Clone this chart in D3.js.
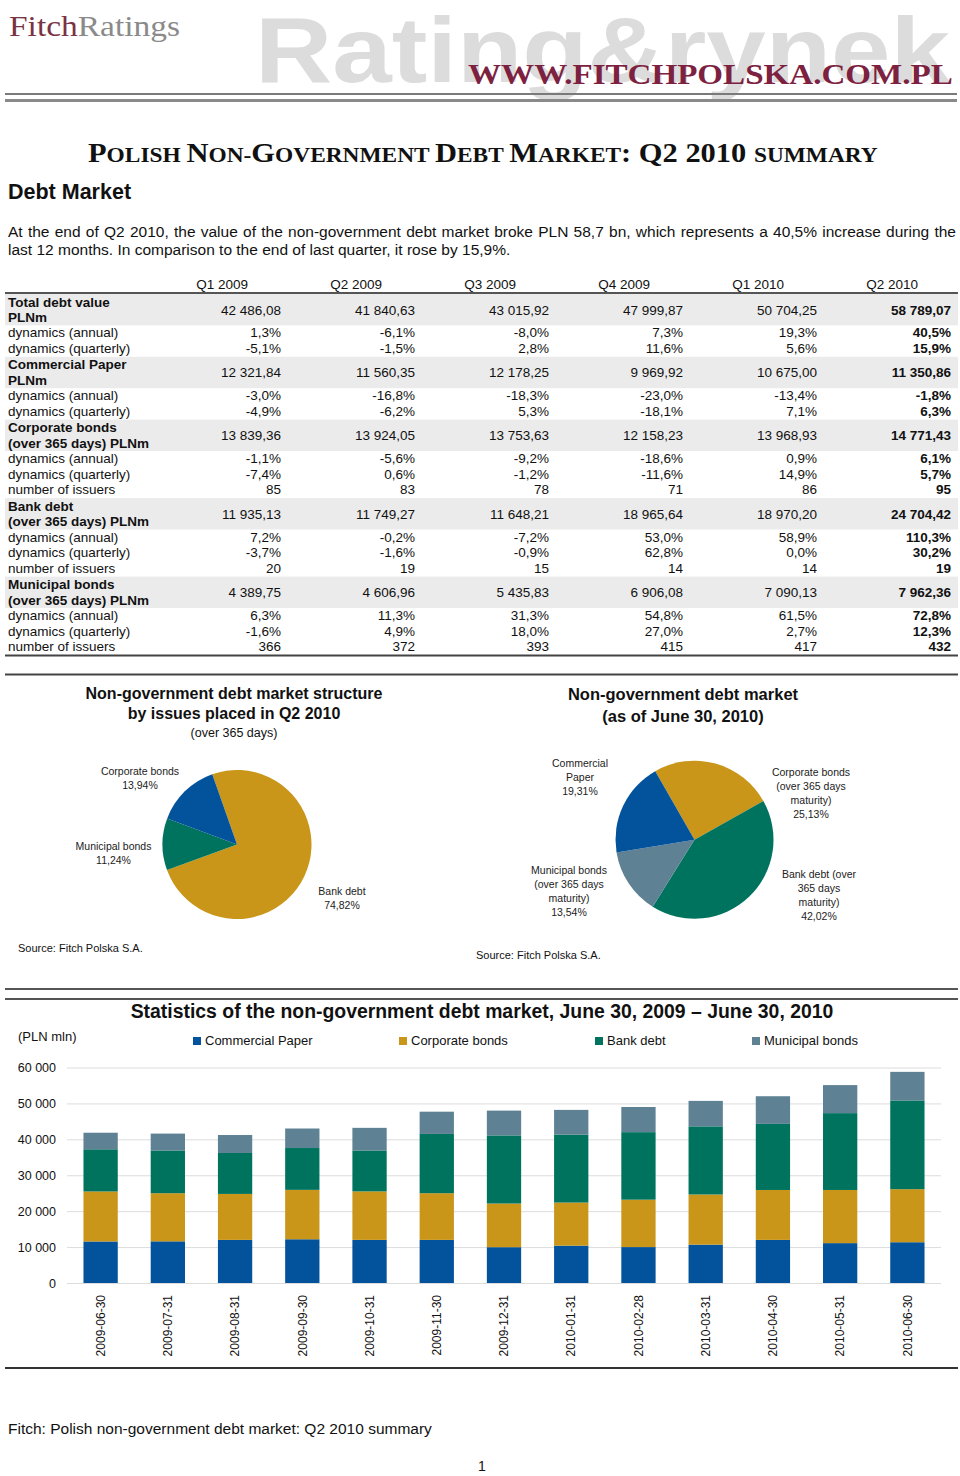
<!DOCTYPE html>
<html><head><meta charset="utf-8">
<script src="https://cdn.jsdelivr.net/npm/d3@7"></script>
<style>
body{margin:0;background:#fff}
svg{display:block}
text{font-family:"Liberation Sans",Arial,Helvetica,sans-serif;fill:#111}
</style>
</head><body>
<svg id="page" width="960" height="1476"></svg>
<script>
// ---------------- DATA ----------------
const quarters = ["Q1 2009","Q2 2009","Q3 2009","Q4 2009","Q1 2010","Q2 2010"];
const totalValue = [42486.08, 41840.63, 43015.92, 47999.87, 50704.25, 58789.07];
const totalAnnual = [1.3, -6.1, -8.0, 7.3, 19.3, 40.5];
const totalQuarterly = [-5.1, -1.5, 2.8, 11.6, 5.6, 15.9];
const cpValue = [12321.84, 11560.35, 12178.25, 9969.92, 10675.00, 11350.86];
const cpAnnual = [-3.0, -16.8, -18.3, -23.0, -13.4, -1.8];
const cpQuarterly = [-4.9, -6.2, 5.3, -18.1, 7.1, 6.3];
const corpValue = [13839.36, 13924.05, 13753.63, 12158.23, 13968.93, 14771.43];
const corpAnnual = [-1.1, -5.6, -9.2, -18.6, 0.9, 6.1];
const corpQuarterly = [-7.4, 0.6, -1.2, -11.6, 14.9, 5.7];
const corpIssuers = [85, 83, 78, 71, 86, 95];
const bankValue = [11935.13, 11749.27, 11648.21, 18965.64, 18970.20, 24704.42];
const bankAnnual = [7.2, -0.2, -7.2, 53.0, 58.9, 110.3];
const bankQuarterly = [-3.7, -1.6, -0.9, 62.8, 0.0, 30.2];
const bankIssuers = [20, 19, 15, 14, 14, 19];
const muniValue = [4389.75, 4606.96, 5435.83, 6906.08, 7090.13, 7962.36];
const muniAnnual = [6.3, 11.3, 31.3, 54.8, 61.5, 72.8];
const muniQuarterly = [-1.6, 4.9, 18.0, 27.0, 2.7, 12.3];
const muniIssuers = [366, 372, 393, 415, 417, 432];

const pie1Names = ["Bank debt", "Municipal bonds", "Corporate bonds"];
const pie1Values = [74.82, 11.24, 13.94];
const pie2Names = [["Corporate bonds","(over 365 days","maturity)"], ["Bank debt (over","365 days","maturity)"], ["Municipal bonds","(over 365 days","maturity)"], ["Commercial","Paper"]];
const pie2Values = [25.13, 42.02, 13.54, 19.31];

const barDates = ["2009-06-30","2009-07-31","2009-08-31","2009-09-30","2009-10-31","2009-11-30","2009-12-31","2010-01-31","2010-02-28","2010-03-31","2010-04-30","2010-05-31","2010-06-30"];
const barCP    = [11560, 11600, 12000, 12178, 12000, 12000,  9970, 10400, 10000, 10675, 12000, 11100, 11351];
const barCorp  = [13924, 13400, 12800, 13754, 13500, 13000, 12158, 12000, 13200, 13969, 13900, 14800, 14771];
const barBank  = [11749, 11900, 11400, 11648, 11400, 16500, 18966, 18900, 18800, 18970, 18400, 21400, 24704];
const barMuni  = [ 4607,  4700,  5000,  5436,  6300,  6200,  6906,  6900,  7000,  7090,  7700,  7800,  7962];
const seriesNames = ["Commercial Paper","Corporate bonds","Bank debt","Municipal bonds"];
const yTicks = [0, 10000, 20000, 30000, 40000, 50000, 60000];

// ---------------- STYLE ----------------
const C = {blue:"#03529c", gold:"#c9961a", green:"#00735e", slate:"#5e8194"};
const pl = d3.formatLocale({decimal:",", thousands:"\u00a0", grouping:[3], currency:["",""], minus:"-"});
const fNum = pl.format(",.2f");
const fPct = v => pl.format(".1f")(v) + "%";
const fInt = pl.format("d");
const fTick = pl.format(",d");
const fPie = v => pl.format(".2f")(v) + "%";

const svg = d3.select("#page");
svg.append("rect").attr("width",960).attr("height",1476).attr("fill","#fff");

function fitX(g, textSel, width){
  const w = textSel.node().getComputedTextLength();
  textSel.attr("transform", `scale(${width / w},1)`);
}

// ---------------- HEADER ----------------
{
  const wm = svg.append("g").attr("transform","translate(255,82)");
  const t = wm.append("text").text("Rating&rynek")
    .style("font-size","92px").style("font-weight","bold").style("fill","#dcdcdc");
  fitX(wm, t, 695);

  const logo = svg.append("g").attr("transform","translate(9,36)");
  const lt = logo.append("text").style("font-family","'Liberation Serif','Times New Roman',serif").style("font-size","30px");
  lt.append("tspan").text("Fitch").style("fill","#7a3344");
  lt.append("tspan").text("Ratings").style("fill","#8a8a8a");
  fitX(logo, lt, 171);

  const www = svg.append("g").attr("transform","translate(468,84)");
  const wt = www.append("text").text("WWW.FITCHPOLSKA.COM.PL")
    .style("font-family","'Liberation Serif','Times New Roman',serif").style("font-size","29px")
    .style("font-weight","bold").style("fill","#7d2140");
  fitX(www, wt, 485);

  svg.append("line").attr("x1",5).attr("x2",957).attr("y1",94).attr("y2",94).attr("stroke","#7a7a7a").attr("stroke-width",2);
  svg.append("line").attr("x1",5).attr("x2",957).attr("y1",100.5).attr("y2",100.5).attr("stroke","#8a8a8a").attr("stroke-width",3);
}

// ---------------- TITLE & TEXT ----------------
{
  const g = svg.append("g").attr("transform","translate(88,162)");
  const t = g.append("text").style("font-family","'Liberation Serif','Times New Roman',serif").style("font-weight","bold");
  const parts = [["P",1],["OLISH ",0],["N",1],["ON-",0],["G",1],["OVERNMENT ",0],["D",1],["EBT ",0],["M",1],["ARKET",0],[": Q2 2010 ",1],["SUMMARY",0]];
  parts.forEach(([s,big]) => t.append("tspan").text(s).style("font-size", big ? "28px" : "21.5px"));
  fitX(g, t, 790);

  svg.append("text").attr("x",8).attr("y",199).text("Debt Market")
    .style("font-size","21.5px").style("font-weight","bold");

  const l1 = svg.append("text").attr("x",8).attr("y",237).style("font-size","15.5px")
    .text("At the end of Q2 2010, the value of the non-government debt market broke PLN 58,7 bn, which represents a 40,5% increase during the");
  const w1 = l1.node().getComputedTextLength();
  const nSp = (l1.text().match(/ /g) || []).length;
  l1.attr("word-spacing", (948 - w1) / nSp);
  svg.append("text").attr("x",8).attr("y",255).style("font-size","15.5px")
    .text("last 12 months. In comparison to the end of last quarter, it rose by 15,9%.");
}

// ---------------- TABLE ----------------
{
  const colRight = [281, 415, 549, 683, 817, 951];
  const rows = [
    {label:["Total debt value","PLNm"], v:totalValue, f:fNum, head:true},
    {label:["dynamics (annual)"], v:totalAnnual, f:fPct},
    {label:["dynamics (quarterly)"], v:totalQuarterly, f:fPct},
    {label:["Commercial Paper","PLNm"], v:cpValue, f:fNum, head:true},
    {label:["dynamics (annual)"], v:cpAnnual, f:fPct},
    {label:["dynamics (quarterly)"], v:cpQuarterly, f:fPct},
    {label:["Corporate bonds","(over 365 days) PLNm"], v:corpValue, f:fNum, head:true},
    {label:["dynamics (annual)"], v:corpAnnual, f:fPct},
    {label:["dynamics (quarterly)"], v:corpQuarterly, f:fPct},
    {label:["number of issuers"], v:corpIssuers, f:fInt},
    {label:["Bank debt","(over 365 days) PLNm"], v:bankValue, f:fNum, head:true},
    {label:["dynamics (annual)"], v:bankAnnual, f:fPct},
    {label:["dynamics (quarterly)"], v:bankQuarterly, f:fPct},
    {label:["number of issuers"], v:bankIssuers, f:fInt},
    {label:["Municipal bonds","(over 365 days) PLNm"], v:muniValue, f:fNum, head:true},
    {label:["dynamics (annual)"], v:muniAnnual, f:fPct},
    {label:["dynamics (quarterly)"], v:muniQuarterly, f:fPct},
    {label:["number of issuers"], v:muniIssuers, f:fInt}
  ];
  const tg = svg.append("g").style("font-size","13.5px");
  tg.selectAll("text.qh").data(quarters).join("text").attr("class","qh")
    .attr("x",(d,i)=>colRight[i]-33).attr("y",289).attr("text-anchor","end").text(d=>d);
  let y = 294;
  const gH = 31.4, nH = 15.7;
  rows.forEach(r => {
    const h = r.head ? gH : nH;
    if (r.head) tg.append("rect").attr("x",5).attr("y",y).attr("width",953).attr("height",h).attr("fill","#ebebeb");
    r.label.forEach((l,k) => tg.append("text").attr("x",8).attr("y", r.head ? y + 12.5 + k*15.5 : y + 12)
      .text(l).style("font-weight", r.head ? "bold" : "normal"));
    r.v.forEach((v,i) => tg.append("text").attr("x",colRight[i]).attr("y", r.head ? y + 20.5 : y + 12)
      .attr("text-anchor","end").text(r.f(v)).style("font-weight", i === 5 ? "bold" : "normal"));
    y += h;
  });
  svg.append("line").attr("x1",5).attr("x2",958).attr("y1",293).attr("y2",293).attr("stroke","#555").attr("stroke-width",2);
  svg.append("line").attr("x1",5).attr("x2",958).attr("y1",655.5).attr("y2",655.5).attr("stroke","#444").attr("stroke-width",2);
}

// ---------------- PIES ----------------
svg.append("line").attr("x1",5).attr("x2",958).attr("y1",674.5).attr("y2",674.5).attr("stroke","#444").attr("stroke-width",2);
function drawPie(cx, cy, r, startDeg, values, colors, labels, labelPos){
  const pie = d3.pie().sort(null).value(d=>d)
    .startAngle(startDeg*Math.PI/180).endAngle(startDeg*Math.PI/180 + 2*Math.PI);
  const arc = d3.arc().innerRadius(0).outerRadius(r);
  const g = svg.append("g").attr("transform",`translate(${cx},${cy})`);
  g.selectAll("path").data(pie(values)).join("path").attr("d",arc).attr("fill",(d,i)=>colors[i]);
  labels.forEach((lines,i) => {
    const t = svg.append("text").attr("text-anchor","middle").style("font-size","10.5px").style("fill","#222");
    lines.forEach((l,k) => t.append("tspan").attr("x",labelPos[i][0]).attr("y",labelPos[i][1] + k*14).text(l));
  });
}
{
  svg.append("text").attr("x",234).attr("y",699).attr("text-anchor","middle").style("font-size","16px").style("font-weight","bold").text("Non-government debt market structure");
  svg.append("text").attr("x",234).attr("y",719).attr("text-anchor","middle").style("font-size","16px").style("font-weight","bold").text("by issues placed in Q2 2010");
  svg.append("text").attr("x",234).attr("y",737).attr("text-anchor","middle").style("font-size","12.5px").text("(over 365 days)");
  drawPie(237, 844.5, 74.5, -19.4, pie1Values, [C.gold, C.green, C.blue],
    pie1Names.map((n,i)=>[n, fPie(pie1Values[i])]),
    [[342, 894.5],[113.5, 849.5],[140, 774.5]]);
  svg.append("text").attr("x",18).attr("y",952).style("font-size","11px").text("Source: Fitch Polska S.A.");

  svg.append("text").attr("x",683).attr("y",700).attr("text-anchor","middle").style("font-size","16.5px").style("font-weight","bold").text("Non-government debt market");
  svg.append("text").attr("x",683).attr("y",721.5).attr("text-anchor","middle").style("font-size","16.5px").style("font-weight","bold").text("(as of June 30, 2010)");
  drawPie(694.5, 839.7, 79, -29.8, pie2Values, [C.gold, C.green, C.slate, C.blue],
    pie2Names.map((n,i)=>n.concat([fPie(pie2Values[i])])),
    [[811, 775.5],[819, 877.5],[569, 873.5],[580, 766.5]]);
  svg.append("text").attr("x",476).attr("y",959).style("font-size","11px").text("Source: Fitch Polska S.A.");
}

// ---------------- BAR CHART ----------------
svg.append("line").attr("x1",5).attr("x2",958).attr("y1",989).attr("y2",989).attr("stroke","#555").attr("stroke-width",2);
svg.append("line").attr("x1",5).attr("x2",958).attr("y1",999).attr("y2",999).attr("stroke","#555").attr("stroke-width",2);
{
  svg.append("text").attr("x",482).attr("y",1018).attr("text-anchor","middle").style("font-size","19.4px").style("font-weight","bold")
    .text("Statistics of the non-government debt market, June 30, 2009 \u2013 June 30, 2010");
  svg.append("text").attr("x",18).attr("y",1041).style("font-size","13px").text("(PLN mln)");

  const colors = [C.blue, C.gold, C.green, C.slate];
  const legX = [193, 399, 595, 752];
  seriesNames.forEach((n,i) => {
    svg.append("rect").attr("x",legX[i]).attr("y",1037).attr("width",8).attr("height",8).attr("fill",colors[i]);
    svg.append("text").attr("x",legX[i]+12).attr("y",1045).style("font-size","13px").text(n);
  });

  const x = d3.scaleBand().domain(barDates).range([67, 941]).paddingInner(0.49).paddingOuter(0.245);
  const y = d3.scaleLinear().domain([0, 60000]).range([1283, 1067.5]);

  const grid = svg.append("g").attr("transform","translate(67,0)")
    .call(d3.axisLeft(y).tickValues(yTicks).tickSize(-(941-67)).tickFormat(""));
  grid.select(".domain").remove();
  grid.selectAll("line").attr("stroke","#dcdcdc");

  const ya = svg.append("g").attr("transform","translate(67,0)")
    .call(d3.axisLeft(y).tickValues(yTicks).tickSize(0).tickPadding(11).tickFormat(d=>fTick(d)));
  ya.select(".domain").remove();
  ya.selectAll("text").style("font-size","12.5px").style("font-family","'Liberation Sans',Arial,sans-serif").attr("fill","#111");

  const rows = barDates.map((d,i)=>({date:d, cp:barCP[i], corp:barCorp[i], bank:barBank[i], muni:barMuni[i]}));
  const stack = d3.stack().keys(["cp","corp","bank","muni"])(rows);
  svg.append("g").selectAll("g").data(stack).join("g").attr("fill",(d,i)=>colors[i])
    .selectAll("rect").data(d=>d).join("rect")
    .attr("x",d=>x(d.data.date)).attr("width",x.bandwidth())
    .attr("y",d=>y(d[1])).attr("height",d=>y(d[0])-y(d[1]));

  const xa = svg.append("g").attr("transform","translate(0,1283)").call(d3.axisBottom(x).tickSize(0));
  xa.select(".domain").remove();
  xa.selectAll("text").attr("transform","rotate(-90)").attr("x",-12).attr("y",0).attr("dy","0.35em")
    .style("text-anchor","end").style("font-size","12px").style("font-family","'Liberation Sans',Arial,sans-serif").attr("fill","#111");
}
svg.append("line").attr("x1",5).attr("x2",958).attr("y1",1368).attr("y2",1368).attr("stroke","#333").attr("stroke-width",2);

// ---------------- FOOTER ----------------
svg.append("text").attr("x",8).attr("y",1434).style("font-size","15.5px").text("Fitch: Polish non-government debt market: Q2 2010 summary");
svg.append("text").attr("x",482).attr("y",1471).attr("text-anchor","middle").style("font-size","14px").text("1");
</script>
</body></html>
